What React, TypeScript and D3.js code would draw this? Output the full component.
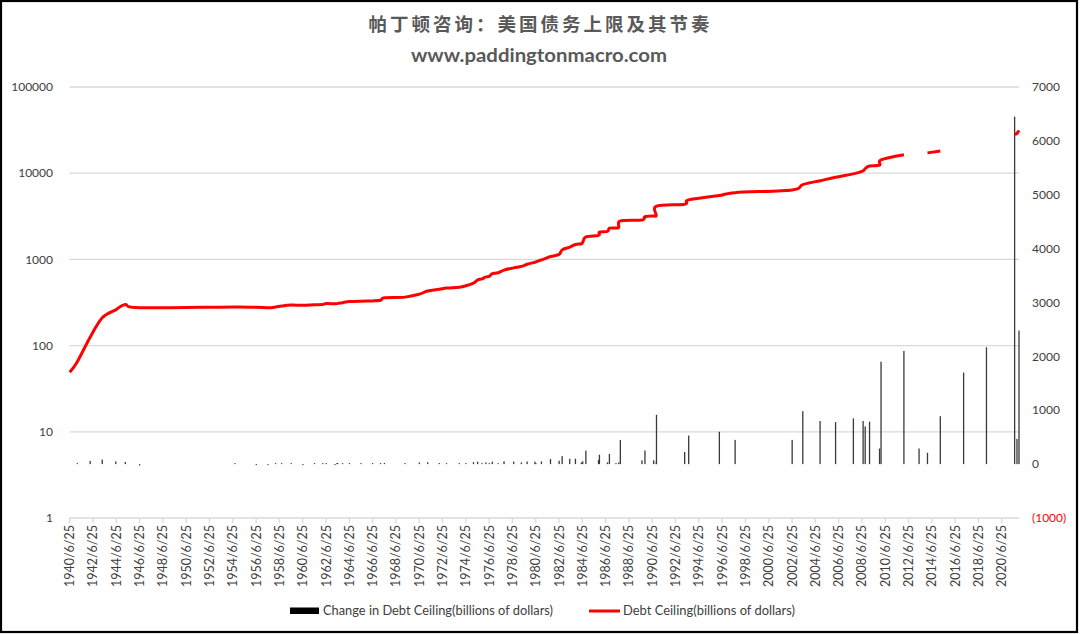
import React from "react";
import * as d3 from "d3";

// ---- DATA ----
const eventDates: string[] = [
  "1940-06-25", "1941-02-19", "1942-03-28", "1943-04-11", "1944-06-09", "1945-04-03", "1946-06-26",
  "1954-08-28", "1956-07-01", "1957-07-01", "1958-02-26", "1958-09-02", "1959-06-30", "1960-06-30",
  "1961-06-30", "1962-03-13", "1962-07-01", "1963-04-01", "1963-05-29", "1963-06-30", "1963-11-26",
  "1964-06-29", "1965-06-24", "1966-06-24", "1967-03-02", "1967-06-30", "1969-04-07", "1970-06-30",
  "1971-03-17", "1972-03-15", "1972-10-27", "1973-12-03", "1974-06-30", "1975-02-19", "1975-06-30",
  "1975-11-14", "1976-03-15", "1976-06-30", "1976-10-01", "1977-04-01", "1977-10-04", "1978-08-03",
  "1979-04-02", "1979-09-29", "1980-05-30", "1980-06-28", "1980-12-19", "1981-09-30", "1982-06-28",
  "1982-09-30", "1983-05-26", "1983-11-21", "1984-05-25", "1984-07-06", "1984-10-13", "1985-11-14",
  "1985-12-12", "1986-08-21", "1986-10-21", "1987-05-15", "1987-08-10", "1987-09-29", "1989-08-07",
  "1989-11-08", "1990-08-09", "1990-10-28", "1990-11-05", "1993-04-06", "1993-08-10", "1996-03-29",
  "1997-08-05", "2002-06-28", "2003-05-27", "2004-11-19", "2006-03-20", "2007-09-29", "2008-07-30",
  "2008-10-03", "2009-02-17", "2009-12-28", "2010-02-12", "2012-01-30", "2013-02-04", "2013-05-19",
  "2013-10-17", "2014-02-07", "2015-03-16", "2015-11-02", "2017-03-16", "2017-09-08", "2019-03-02",
  "2019-08-02", "2021-08-01", "2021-10-14", "2021-12-16",
];

// Debt ceiling (billions of dollars), null = suspended
const debtCeiling: (number | null)[] = [
  49, 65, 125, 210, 260, 300, 275,
  281, 278, 275, 280, 288, 295, 293,
  298, 300, 308, 305, 307, 309, 315,
  324, 328, 330, 336, 358, 365, 395,
  430, 450, 465, 475.7, 495, 531, 577,
  595, 627, 636, 682, 700, 752, 798,
  830, 879, 925, 935.1, 985, 1079.8, 1143.1,
  1290.2, 1389, 1490, 1520, 1573, 1823.8, 1903.8,
  2078.7, 2111, 2300, 2320, 2352, 2800, 2870,
  3122.7, 3195, 3230, 4145, 4370, 4900, 5500,
  5950, 6400, 7384, 8184, 8965, 9815, 10615,
  11315, 12104, 12394, 14294, 16394, null, 16699,
  null, 17212, 18113, null, 19809, null, 21988,
  null, 28401, 28881, 31381,
];

// Change in debt ceiling (billions of dollars)
const ceilingChange: (number | null)[] = [
  null, 16, 60, 85, 50, 40, -25,
  6, -3, -3, 5, 8, 7, -2,
  5, 2, 8, -3, 2, 2, 6,
  9, 4, 2, 6, 22, 7, 30,
  35, 20, 15, 10.7, 19.3, 36, 46,
  18, 32, 9, 46, 18, 52, 46,
  32, 49, 46, 10.1, 49.9, 94.8, 63.3,
  147.1, 98.8, 101, 30, 53, 250.8, 80,
  174.9, 32.3, 189, 20, 32, 448, 70,
  252.7, 72.3, 35, 915, 225, 530, 600,
  450, 450, 984, 800, 781, 850, 800,
  700, 789, 290, 1900, 2100, null, 290,
  null, 210, 890, null, 1700, null, 2170,
  null, 6450, 470, 2480,
];

const xTickLabels: string[] = [
  "1940/6/25", "1942/6/25", "1944/6/25", "1946/6/25", "1948/6/25", "1950/6/25", "1952/6/25",
  "1954/6/25", "1956/6/25", "1958/6/25", "1960/6/25", "1962/6/25", "1964/6/25", "1966/6/25",
  "1968/6/25", "1970/6/25", "1972/6/25", "1974/6/25", "1976/6/25", "1978/6/25", "1980/6/25",
  "1982/6/25", "1984/6/25", "1986/6/25", "1988/6/25", "1990/6/25", "1992/6/25", "1994/6/25",
  "1996/6/25", "1998/6/25", "2000/6/25", "2002/6/25", "2004/6/25", "2006/6/25", "2008/6/25",
  "2010/6/25", "2012/6/25", "2014/6/25", "2016/6/25", "2018/6/25", "2020/6/25",
];
const leftTicks: number[] = [1, 10, 100, 1000, 10000, 100000];
const rightTicks: number[] = [-1000, 0, 1000, 2000, 3000, 4000, 5000, 6000, 7000];

const titleText = "帕丁顿咨询：美国债务上限及其节奏";
const subtitleText = "www.paddingtonmacro.com";
const legendBarText = "Change in Debt Ceiling(billions of dollars)";
const legendLineText = "Debt Ceiling(billions of dollars)";

// ---- LAYOUT ----
const W = 1080;
const H = 634;
const plot = { left: 69.7, right: 1019, top: 87, bottom: 518 };
const FONT = "Lato, 'Open Sans', sans-serif";

const parseDate = d3.timeParse("%Y-%m-%d");
const parseTick = d3.timeParse("%Y/%m/%d");

export default function App() {
  const dates = eventDates.map((s) => parseDate(s) as Date);

  const x = d3
    .scaleTime()
    .domain([parseDate("1940-06-25") as Date, parseDate("2021-12-16") as Date])
    .range([plot.left, plot.right]);
  const yL = d3.scaleLog().domain([1, 100000]).range([plot.bottom, plot.top]);
  const yR = d3.scaleLinear().domain([-1000, 7000]).range([plot.bottom, plot.top]);

  const lineData = dates.map((d, i) => ({ d, v: debtCeiling[i] }));
  const lineGen = d3
    .line<{ d: Date; v: number | null }>()
    .defined((p) => p.v != null)
    .x((p) => x(p.d))
    .y((p) => yL(p.v as number))
    .curve(d3.curveCardinal.tension(0));
  const path = lineGen(lineData) || "";

  const y0 = yR(0);
  const bars = dates
    .map((d, i) => ({ d, v: ceilingChange[i] }))
    .filter((b) => b.v != null) as { d: Date; v: number }[];

  const labelColor = "#404040";

  return (
    <svg
      width={W}
      height={H}
      viewBox={`0 0 ${W} ${H}`}
      style={{ position: "absolute", left: 0, top: 0, display: "block", background: "#fff" }}
      fontFamily={FONT}
    >
      <rect x={0} y={0} width={W} height={H} fill="#fff" />
      <rect x={1} y={1} width={1076} height={631} fill="none" stroke="#000" strokeWidth={2.2} />

      {/* Title */}
      <text
        x={539}
        y={31}
        textAnchor="middle"
        fontFamily="'Noto Sans CJK SC', sans-serif"
        fontWeight="bold"
        fontSize={18.5}
        fill="#595959"
        textLength={341}
        lengthAdjust="spacing"
      >
        {titleText}
      </text>
      <text
        x={539}
        y={62}
        textAnchor="middle"
        fontWeight="bold"
        fontSize={18.5}
        fill="#595959"
        textLength={256}
        lengthAdjust="spacingAndGlyphs"
      >
        {subtitleText}
      </text>

      {/* Gridlines (left log axis) */}
      {leftTicks.slice(1).map((t) => (
        <line key={t} x1={plot.left} x2={plot.right} y1={yL(t)} y2={yL(t)} stroke="#d9d9d9" strokeWidth={1.3} />
      ))}
      {/* X axis line & ticks */}
      <line x1={plot.left} x2={plot.right} y1={plot.bottom} y2={plot.bottom} stroke="#d9d9d9" strokeWidth={1.3} />
      {xTickLabels.map((lab) => {
        const xx = x(parseTick(lab) as Date);
        return (
          <g key={lab}>
            <line x1={xx} x2={xx} y1={plot.bottom} y2={plot.bottom + 5} stroke="#d9d9d9" strokeWidth={1.3} />
            <text
              transform={`translate(${xx},${plot.bottom + 7}) rotate(-90)`}
              textAnchor="end"
              dy="0.36em"
              fontSize={12.5}
              fill={labelColor}
            >
              {lab}
            </text>
          </g>
        );
      })}

      {/* Left axis labels */}
      {leftTicks.map((t) => (
        <text key={t} x={53} y={yL(t)} dy="0.35em" textAnchor="end" fontSize={12} fill={labelColor}>
          {d3.format("d")(t)}
        </text>
      ))}
      {/* Right axis labels */}
      {rightTicks.map((t) => (
        <text
          key={t}
          x={1032}
          y={yR(t)}
          dy="0.35em"
          textAnchor="start"
          fontSize={12}
          fill={t < 0 ? "#ff0000" : labelColor}
        >
          {t < 0 ? `(${Math.abs(t)})` : String(t)}
        </text>
      ))}

      {/* Bars */}
      {bars.map((b, i) => {
        const yv = yR(b.v);
        let top = Math.min(yv, y0);
        let h = Math.abs(yv - y0);
        if (h < 1) {
          h = 1;
          if (b.v < 0) top = y0;
          else top = y0 - 1;
        }
        return <rect key={i} x={x(b.d) - 0.65} y={top} width={1.3} height={h} fill="#3a3a3a" />;
      })}

      {/* Debt ceiling line */}
      <path d={path} fill="none" stroke="#ff0000" strokeWidth={3} strokeLinejoin="round" strokeLinecap="butt" />

      {/* Legend */}
      <rect x={290} y={607.5} width={29} height={6.5} fill="#000" />
      <text x={323} y={615} fontSize={12.5} fill={labelColor} textLength={230} lengthAdjust="spacingAndGlyphs">
        {legendBarText}
      </text>
      <line x1={589} x2={620} y1={611} y2={611} stroke="#ff0000" strokeWidth={3} />
      <text x={623} y={615} fontSize={12.5} fill={labelColor} textLength={172} lengthAdjust="spacingAndGlyphs">
        {legendLineText}
      </text>
    </svg>
  );
}
